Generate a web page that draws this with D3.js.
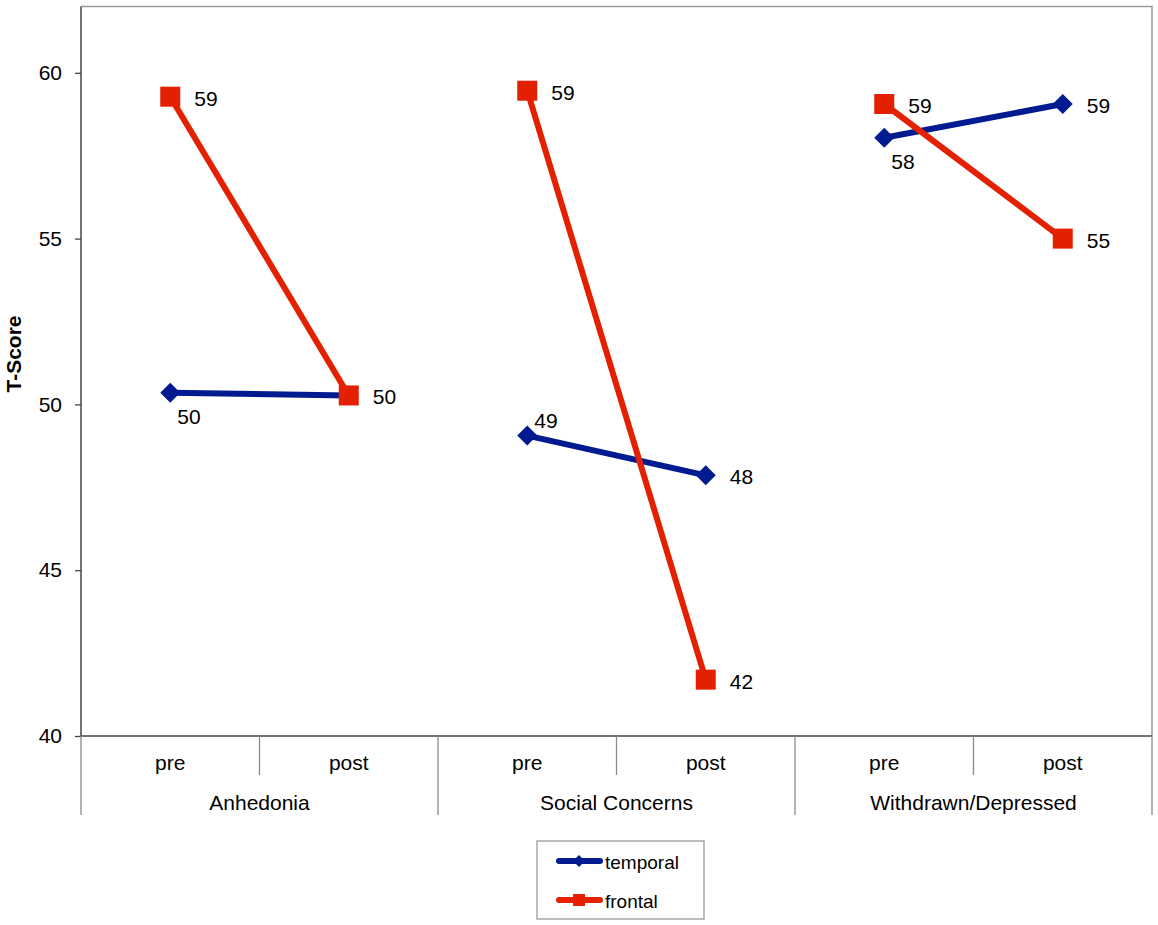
<!DOCTYPE html>
<html>
<head>
<meta charset="utf-8">
<script src="https://cdn.jsdelivr.net/npm/d3@7"></script>
<style>
  body { margin: 0; background: #fff; }
  svg { display: block; font-family: "Liberation Sans", Arial, sans-serif; }
</style>
</head>
<body>
<svg width="1158" height="925"></svg>
<script>
// data
const groups = ["Anhedonia", "Social Concerns", "Withdrawn/Depressed"];
const phases = ["pre", "post"];
const temporal = [50.35, 50.27, 49.06, 47.86, 58.04, 59.06];
const frontal = [59.28, 50.27, 59.46, 41.7, 59.06, 55.0];
const yTicks = [40, 45, 50, 55, 60];
// where the value label sits next to each point ("none" = hidden under the other series)
const temporalLabelPos = ["below", "none", "above", "right", "below", "right"];
const frontalLabelPos = ["right", "right", "right", "right", "right", "right"];

const svg = d3.select("svg");

const left = 81, right = 1152, bottom = 736;

const xGroup = d3.scaleBand().domain(groups).range([left, right]);
const xSub = d3.scaleBand().domain(phases).range([0, xGroup.bandwidth()]);
const y = d3.scaleLinear().domain([40, 62]).range([bottom, 6.5]);

const xPos = i => xGroup(groups[Math.floor(i / 2)]) + xSub(phases[i % 2]) + xSub.bandwidth() / 2;

// frame: top and right in light gray
svg.append("path")
    .attr("d", `M${left},${y(62)}H${right}V${bottom}`)
    .attr("fill", "none")
    .attr("stroke", "#9a9a9a")
    .attr("stroke-width", 1.5);

// y axis
const yAxis = svg.append("g")
    .attr("transform", `translate(${left},0)`)
    .call(d3.axisLeft(y).tickValues(yTicks).tickSize(6).tickPadding(13));
yAxis.select(".domain").remove();
yAxis.selectAll(".tick line").attr("stroke", "#444").attr("stroke-width", 1.3);
yAxis.selectAll(".tick text").attr("font-size", 21).attr("fill", "#000")
    .attr("font-family", "Liberation Sans, Arial, sans-serif");
svg.append("line")
    .attr("x1", left).attr("x2", left).attr("y1", y(62)).attr("y2", bottom)
    .attr("stroke", "#444").attr("stroke-width", 1.5);

svg.append("text")
    .attr("transform", `translate(13,354) rotate(-90)`)
    .attr("text-anchor", "middle")
    .attr("dominant-baseline", "central")
    .attr("font-size", 21)
    .attr("font-weight", "bold")
    .text("T-Score");

// x axis with two levels of categories
svg.append("line")
    .attr("x1", left).attr("x2", right).attr("y1", bottom).attr("y2", bottom)
    .attr("stroke", "#444").attr("stroke-width", 1.5);

const cat = svg.append("g");
groups.forEach(g => {
    const gx = xGroup(g);
    cat.append("line")
        .attr("x1", gx).attr("x2", gx).attr("y1", bottom).attr("y2", 815)
        .attr("stroke", "#8a8a8a").attr("stroke-width", 1.3);
    const mid = gx + xSub("post");
    cat.append("line")
        .attr("x1", mid).attr("x2", mid).attr("y1", bottom).attr("y2", 775)
        .attr("stroke", "#8a8a8a").attr("stroke-width", 1.3);
    phases.forEach(p => {
        cat.append("text")
            .attr("x", gx + xSub(p) + xSub.bandwidth() / 2)
            .attr("y", 770)
            .attr("text-anchor", "middle")
            .attr("font-size", 21)
            .text(p);
    });
    cat.append("text")
        .attr("x", gx + xGroup.bandwidth() / 2)
        .attr("y", 810)
        .attr("text-anchor", "middle")
        .attr("font-size", 21)
        .text(g);
});
cat.append("line")
    .attr("x1", right).attr("x2", right).attr("y1", bottom).attr("y2", 815)
    .attr("stroke", "#8a8a8a").attr("stroke-width", 1.3);

// series
const series = [
    { name: "temporal", values: temporal, pos: temporalLabelPos, color: "#001a8f" },
    { name: "frontal", values: frontal, pos: frontalLabelPos, color: "#e32000" }
];

const line = d3.line().x(d => xPos(d.i)).y(d => y(d.v));
const fmt = d3.format(".0f");

series.forEach(s => {
    const pts = s.values.map((v, i) => ({ v, i }));
    const g = svg.append("g");
    groups.forEach((_, gi) => {
        g.append("path")
            .attr("d", line(pts.slice(gi * 2, gi * 2 + 2)))
            .attr("fill", "none")
            .attr("stroke", s.color)
            .attr("stroke-width", 6);
    });
    if (s.name === "frontal") {
        g.selectAll("rect")
            .data(pts)
            .enter()
            .append("rect")
            .attr("x", d => xPos(d.i) - 10)
            .attr("y", d => y(d.v) - 10)
            .attr("width", 20)
            .attr("height", 20)
            .attr("fill", s.color);
    } else {
        g.selectAll("path.mk")
            .data(pts)
            .enter()
            .append("path")
            .attr("class", "mk")
            .attr("d", "M0,-10L10,0L0,10L-10,0Z")
            .attr("transform", d => `translate(${xPos(d.i)},${y(d.v)})`)
            .attr("fill", s.color);
    }

    g.selectAll("text")
        .data(pts.filter(d => s.pos[d.i] !== "none"))
        .enter()
        .append("text")
        .attr("x", d => xPos(d.i) + (s.pos[d.i] === "right" ? 24 : 7))
        .attr("y", d => y(d.v) + (s.pos[d.i] === "right" ? 9 : s.pos[d.i] === "below" ? 31 : -8))
        .attr("font-size", 21)
        .text(d => fmt(d.v));
});

// legend
const lg = svg.append("g");
lg.append("rect")
    .attr("x", 537).attr("y", 841).attr("width", 167).attr("height", 78)
    .attr("fill", "#fff").attr("stroke", "#9a9a9a").attr("stroke-width", 1.3);
series.forEach((s, i) => {
    const ly = 861 + i * 39;
    lg.append("line")
        .attr("x1", 559).attr("x2", 600).attr("y1", ly).attr("y2", ly)
        .attr("stroke", s.color).attr("stroke-width", 6).attr("stroke-linecap", "round");
    if (s.name === "frontal") {
        lg.append("rect").attr("x", 573).attr("y", ly - 6).attr("width", 12).attr("height", 12).attr("fill", s.color);
    } else {
        lg.append("path").attr("d", `M579,${ly - 6}L585,${ly}L579,${ly + 6}L573,${ly}Z`).attr("fill", s.color);
    }
    lg.append("text")
        .attr("x", 605).attr("y", ly + 8)
        .attr("font-size", 19)
        .text(s.name);
});
</script>
</body>
</html>
